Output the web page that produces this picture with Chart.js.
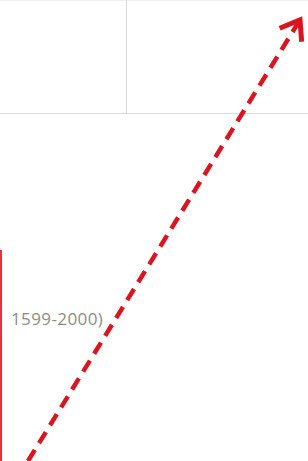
<!DOCTYPE html>
<html>
<head>
<meta charset="utf-8">
<script src="https://cdn.jsdelivr.net/npm/chart.js@4"></script>
<style>
  html, body { margin: 0; padding: 0; background: #ffffff; }
  #wrap { position: relative; width: 308px; height: 461px; overflow: hidden; background: #fff; }
  .hline { position: absolute; left: 0; width: 308px; height: 1px; background: #dcdcdc; }
  .vline { position: absolute; width: 1px; background: #dcdcdc; }
  #redEdge { position: absolute; left: 0; top: 250px; width: 2px; height: 211px; background: #e8333a; }
  #label { position: absolute; left: 11px; top: 307px; font-family: "Open Sans", sans-serif; font-size: 17px; letter-spacing: 0.4px; line-height: 24px; color: #8c8c8c; white-space: nowrap; }
  #c { position: absolute; left: 0; top: 0; }
</style>
</head>
<body>
<div id="wrap">
  <div class="hline" style="top:0px;background:#efefef"></div>
  <div class="hline" style="top:113px"></div>
  <div class="vline" style="left:126px;top:0;height:113px"></div>
  <div id="redEdge"></div>
  <div id="label">1599-2000)</div>
  <canvas id="c" width="308" height="461"></canvas>
</div>
<script>
// Data
const trendYears = [1599, 2000];
const trendValues = [0, 100];
const periodLabel = "1599-2000)";

const points = trendYears.map((y, i) => ({ x: y, y: trendValues[i] }));

const arrowHead = {
  id: 'arrowHead',
  afterDatasetsDraw(chart) {
    const meta = chart.getDatasetMeta(0);
    const n = meta.data.length;
    if (n < 2) return;
    const a = meta.data[n - 2], b = meta.data[n - 1];
    const ang = Math.atan2(a.y - b.y, a.x - b.x);
    const len = 22, spread = 36 * Math.PI / 180;
    const ctx = chart.ctx;
    ctx.save();
    ctx.strokeStyle = '#d9161f';
    ctx.lineWidth = 5;
    ctx.lineCap = 'butt';
    ctx.lineJoin = 'miter';
    ctx.setLineDash([]);
    ctx.beginPath();
    ctx.moveTo(b.x + len * Math.cos(ang + spread), b.y + len * Math.sin(ang + spread));
    ctx.lineTo(b.x, b.y);
    ctx.lineTo(b.x + len * Math.cos(ang - spread), b.y + len * Math.sin(ang - spread));
    ctx.stroke();
    ctx.restore();
  }
};

new Chart(document.getElementById('c'), {
  type: 'scatter',
  data: {
    datasets: [{
      label: periodLabel,
      data: points,
      showLine: true,
      borderColor: '#d9161f',
      borderWidth: 4.5,
      borderDash: [13, 8],
      pointRadius: 0,
      fill: false
    }]
  },
  options: {
    responsive: false,
    animation: false,
    maintainAspectRatio: false,
    layout: { padding: 0 },
    plugins: { legend: { display: false }, tooltip: { enabled: false }, title: { display: false } },
    scales: {
      x: { type: 'linear', display: false, min: 1557.7, max: 2011.8 },
      y: { type: 'linear', display: false, min: 0, max: 104.5 }
    }
  },
  plugins: [arrowHead]
});
</script>
</body>
</html>
